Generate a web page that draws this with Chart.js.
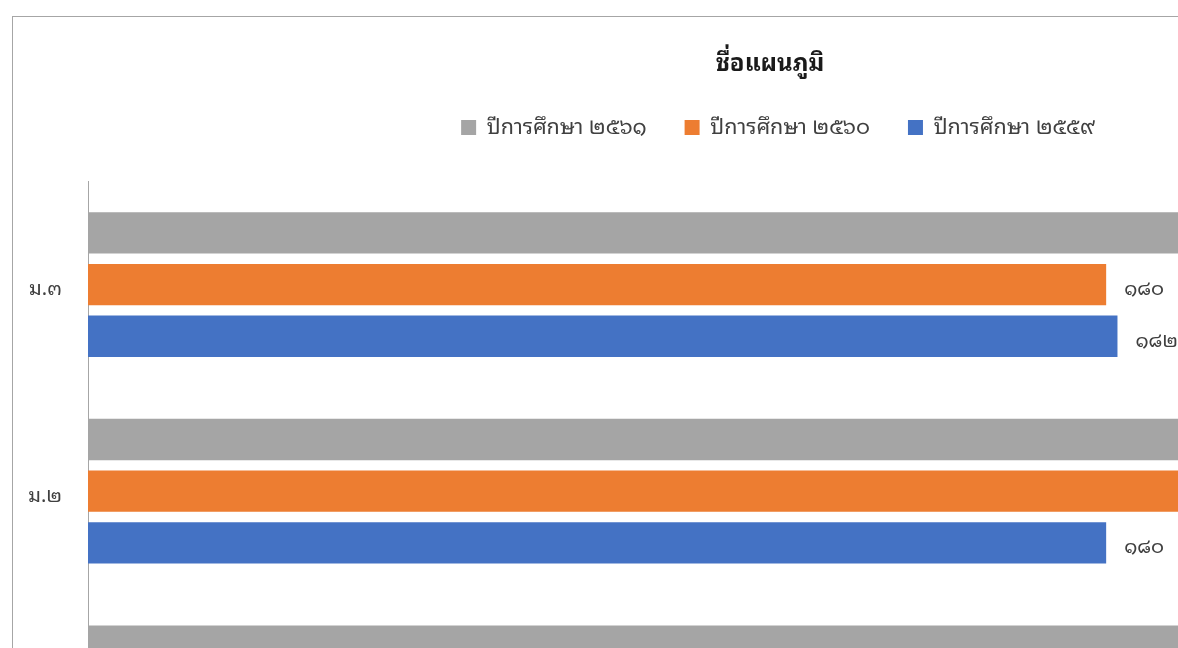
<!DOCTYPE html>
<html>
<head>
<meta charset="utf-8">
<script src="https://cdn.jsdelivr.net/npm/chart.js@4.4.1/dist/chart.umd.min.js"></script>
<style>
  html, body { margin: 0; padding: 0; background: #fff; overflow: hidden; width: 1178px; height: 648px; }
  #wrap { position: absolute; left: 12px; top: 16px; width: 1514px; height: 822px; border: 1px solid #a6a6a6; background: #fff; }
  canvas { display: block; }
</style>
</head>
<body>
<div id="wrap"><canvas id="c" width="1514" height="822"></canvas></div>
<script>
// ---- data ----
const categories = ['ม.๓', 'ม.๒', 'ม.๑'];
const seriesNames = ['ปีการศึกษา ๒๕๖๑', 'ปีการศึกษา ๒๕๖๐', 'ปีการศึกษา ๒๕๕๙'];
const values2561 = [200, 205, 210];
const values2560 = [180, 198, 200];
const values2559 = [182, 180, 195];
const seriesColors = ['#a5a5a5', '#ed7d31', '#4472c4'];

const FONT = '"Noto Sans Thai Looped", "Noto Serif Thai", "Noto Sans Thai", Tahoma, "Noto Sans", sans-serif';
const thaiDigits = ['๐','๑','๒','๓','๔','๕','๖','๗','๘','๙'];
function toThai(n) { return String(n).replace(/[0-9]/g, d => thaiDigits[+d]); }

const dataLabels = {
  id: 'dataLabels',
  afterDatasetsDraw(chart) {
    const ctx = chart.ctx;
    ctx.save();
    ctx.font = '20px ' + FONT;
    ctx.fillStyle = '#404040';
    ctx.textAlign = 'left';
    ctx.textBaseline = 'middle';
    chart.data.datasets.forEach((ds, i) => {
      const meta = chart.getDatasetMeta(i);
      meta.data.forEach((el, j) => {
        ctx.fillText(toThai(ds.data[j]), el.x + 18, el.y + 5);
      });
    });
    ctx.restore();
  }
};

// Excel places this legend slightly right of centre
const legendShift = {
  id: 'legendShift',
  afterLayout(chart) {
    if (chart.legend) { chart.legend.left += 8; chart.legend.right += 8; }
  }
};

const datasets = [values2561, values2560, values2559].map((vals, i) => ({
  label: seriesNames[i],
  data: vals,
  backgroundColor: seriesColors[i],
  borderWidth: 0,
  barPercentage: 0.8,
  categoryPercentage: 0.75
}));

new Chart(document.getElementById('c'), {
  type: 'bar',
  data: { labels: categories, datasets },
  plugins: [dataLabels, legendShift],
  options: {
    indexAxis: 'y',
    responsive: false,
    animation: false,
    layout: { padding: { left: 0, right: 0, top: 0, bottom: 14 } },
    plugins: {
      title: {
        display: true,
        text: 'ชื่อแผนภูมิ',
        color: '#1a1a1a',
        font: { family: FONT, size: 24, weight: 'bold' },
        padding: { top: 33, bottom: 0 }
      },
      legend: {
        display: true,
        position: 'top',
        labels: {
          boxWidth: 15, boxHeight: 15, padding: 38,
          color: '#404040',
          font: { family: FONT, size: 21.5 }
        }
      },
      tooltip: { enabled: false }
    },
    scales: {
      x: {
        position: 'top',
        min: 0, max: 254.4,
        grid: { display: false, drawTicks: false },
        border: { display: false },
        ticks: { display: false },
        afterFit(s) { s.height = 33; }
      },
      y: {
        grid: { display: false, drawTicks: false },
        border: { display: true, color: '#a6a6a6', width: 1 },
        ticks: { color: '#404040', padding: 26, labelOffset: 5, font: { family: FONT, size: 20 } },
        afterFit(s) { s.width = 75; }
      }
    }
  }
});
</script>
</body>
</html>
